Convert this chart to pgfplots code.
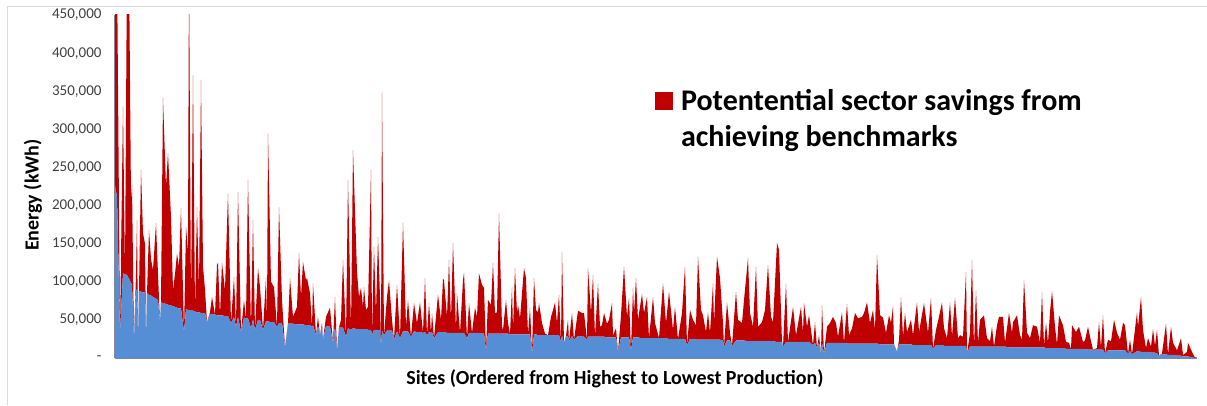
\documentclass[border=0pt]{standalone}
\usepackage{pgfplots}
\pgfplotsset{compat=1.18}
\usepackage{pgfplotstable}
\usepackage{fontspec}
\setmainfont{Carlito}
\definecolor{baseblue}{RGB}{85,142,213}
\definecolor{saveRed}{RGB}{192,0,0}
\definecolor{axisgray}{RGB}{134,134,150}
\pgfplotstableread{
site base saving
1 227000 293000
3 211000 309000
6 33000 0
9 111000 219000
11 110000 0
13 109000 411000
15 104000 416000
17 99000 108000
18 96000 131000
20 24000 0
22 90000 20000
23 89000 92000
24 26000 0
25 88000 0
27 87000 160000
29 86000 78000
31 86000 64000
32 26000 0
33 85000 0
35 83000 85000
37 82000 48000
39 80000 35000
42 78000 99000
44 76000 34000
46 47000 0
47 73000 0
49 72000 269000
52 71000 154000
54 70000 199000
57 69000 116000
59 68000 21000
61 67000 43000
63 66000 71000
65 65000 55000
67 65000 132000
70 34000 0
72 64000 108000
74 63000 77000
75 63000 457000
77 62000 5000
79 62000 309000
81 61000 0
83 60000 138000
85 60000 30000
87 59000 306000
89 59000 61000
91 59000 31000
93 47000 0
96 58000 2000
98 58000 22000
101 57000 0
103 56000 66000
104 56000 69000
106 56000 0
108 56000 69000
111 55000 34000
114 55000 161000
117 46000 0
120 54000 52000
122 41000 0
124 54000 164000
127 34000 0
130 53000 23000
132 52000 0
134 52000 182000
137 39000 0
139 51000 130000
141 37000 0
144 50000 68000
146 50000 43000
149 37000 0
152 48000 58000
153 48000 0
154 48000 247000
157 47000 53000
160 47000 46000
163 41000 0
165 46000 152000
168 46000 30000
171 14000 0
174 45000 0
176 45000 60000
179 45000 9000
183 44000 23000
185 44000 94000
187 44000 36000
189 44000 82000
192 43000 59000
193 43000 62000
196 43000 42000
198 41000 0
199 43000 55000
202 30000 0
204 42000 12000
206 30000 0
208 42000 4000
209 24000 0
212 42000 12000
216 41000 25000
219 20000 0
221 41000 39000
223 10000 0
225 40000 0
227 40000 10000
229 40000 89000
232 28000 0
234 39000 195000
237 37000 0
239 39000 234000
243 38000 75000
245 38000 42000
247 38000 54000
249 38000 29000
250 38000 55000
252 38000 25000
254 37000 30000
257 37000 210000
258 30000 0
260 37000 109000
262 37000 22000
264 37000 122000
266 36000 44000
267 15000 0
268 36000 313000
270 30000 0
273 36000 44000
275 36000 66000
278 36000 14000
280 24000 0
283 35000 61000
286 26000 0
289 35000 143000
292 35000 6000
294 35000 41000
297 28000 0
300 35000 37000
303 34000 12000
306 34000 39000
309 33000 0
311 34000 71000
313 30000 0
315 34000 38000
317 33000 0
318 34000 25000
320 26000 0
324 34000 49000
327 34000 16000
329 34000 70000
330 34000 68000
333 33000 21000
335 33000 96000
337 33000 17000
339 33000 118000
342 33000 4000
343 33000 52000
346 33000 0
349 33000 69000
350 33000 79000
353 26000 0
355 33000 39000
358 33000 0
361 33000 33000
363 33000 21000
365 33000 78000
368 32000 64000
370 32000 60000
372 10000 0
374 32000 44000
377 32000 38000
379 32000 93000
381 32000 27000
383 32000 28000
385 32000 158000
388 32000 9000
389 32000 5000
392 32000 44000
394 32000 14000
396 31000 0
398 31000 62000
399 31000 6000
401 31000 87000
403 31000 28000
404 31000 39000
406 31000 21000
410 31000 87000
412 31000 74000
414 31000 0
416 31000 35000
418 6000 0
420 31000 74000
422 31000 32000
424 30000 30000
425 30000 42000
428 30000 16000
431 30000 2000
434 30000 0
437 30000 24000
439 30000 33000
441 30000 43000
443 30000 16000
445 30000 53000
447 21000 0
448 30000 109000
450 20000 0
452 29000 0
454 29000 21000
455 22000 0
458 29000 30000
460 24000 0
464 29000 33000
468 28000 31000
470 28000 31000
473 24000 0
474 28000 90000
477 28000 31000
479 28000 81000
481 28000 0
484 28000 70000
486 28000 13000
488 28000 15000
490 28000 31000
493 27000 18000
495 27000 23000
498 27000 45000
499 27000 3000
502 27000 12000
504 8000 0
507 27000 29000
510 27000 93000
513 27000 27000
515 27000 52000
517 10000 0
519 27000 65000
520 27000 32000
522 27000 78000
524 27000 23000
528 26000 58000
530 26000 33000
533 26000 54000
535 26000 0
539 26000 54000
541 26000 20000
545 26000 0
549 26000 72000
552 26000 20000
555 25000 62000
559 25000 12000
561 25000 42000
564 25000 0
568 25000 34000
571 25000 95000
573 17000 0
576 25000 38000
579 25000 25000
582 24000 19000
584 24000 109000
587 24000 39000
589 24000 32000
592 24000 10000
594 24000 36000
596 24000 9000
599 24000 74000
600 24000 22000
603 24000 109000
606 24000 81000
609 23000 23000
610 15000 0
613 23000 50000
616 23000 10000
618 16000 0
622 23000 64000
624 23000 27000
628 23000 23000
630 23000 53000
634 22000 109000
636 22000 37000
639 22000 19000
642 22000 98000
644 22000 19000
648 22000 25000
651 22000 41000
654 22000 100000
657 22000 32000
659 22000 25000
663 21000 130000
665 21000 121000
668 21000 0
669 15000 0
672 21000 77000
674 21000 0
679 21000 46000
682 21000 9000
687 21000 46000
689 21000 12000
690 21000 51000
693 21000 20000
695 21000 35000
699 17000 0
701 20000 27000
703 13000 0
705 20000 10000
707 6000 0
708 20000 50000
710 6000 0
713 20000 21000
716 20000 26000
719 20000 34000
722 20000 26000
724 20000 8000
728 20000 40000
730 20000 0
733 19000 52000
735 19000 11000
738 19000 20000
741 19000 40000
744 19000 33000
748 19000 35000
750 19000 40000
753 19000 54000
756 19000 27000
759 19000 44000
761 19000 18000
763 19000 116000
766 18000 38000
769 18000 35000
772 18000 15000
775 18000 38000
777 18000 28000
779 18000 50000
780 18000 0
783 8000 0
785 18000 5000
787 18000 62000
789 18000 10000
791 18000 41000
793 18000 16000
797 18000 32000
799 17000 13000
803 17000 56000
805 17000 17000
810 17000 55000
814 17000 16000
817 17000 62000
819 12000 0
822 17000 20000
825 17000 37000
828 17000 56000
830 16000 23000
833 16000 10000
836 16000 57000
838 16000 12000
841 16000 63000
844 16000 10000
846 16000 14000
849 16000 12000
852 16000 97000
853 6000 0
856 15000 18000
858 15000 114000
860 15000 0
862 15000 74000
864 15000 5000
866 15000 35000
870 15000 41000
873 15000 11000
876 15000 7000
878 15000 26000
880 15000 0
883 15000 28000
885 15000 39000
889 15000 39000
891 15000 5000
895 14000 45000
898 14000 19000
899 14000 33000
903 14000 42000
906 14000 16000
908 14000 10000
910 14000 88000
913 14000 19000
916 14000 12000
919 14000 29000
923 14000 27000
926 14000 6000
928 14000 72000
930 14000 2000
932 13000 33000
934 13000 7000
936 13000 47000
938 13000 75000
941 13000 28000
943 13000 5000
945 13000 43000
948 13000 33000
949 13000 30000
952 12000 9000
955 12000 8000
957 12000 0
958 12000 31000
962 12000 22000
965 12000 29000
969 12000 9000
971 12000 11000
974 11000 30000
976 11000 17000
979 11000 0
983 11000 2000
985 11000 36000
987 11000 3000
989 11000 45000
991 6000 0
994 10000 14000
997 10000 12000
1000 10000 40000
1003 10000 23000
1006 10000 14000
1009 10000 36000
1011 10000 33000
1014 6000 0
1016 9000 15000
1018 5000 0
1023 9000 51000
1024 9000 32000
1027 8000 72000
1029 8000 29000
1032 8000 5000
1034 8000 18000
1037 7000 8000
1039 7000 31000
1041 7000 9000
1043 6000 31000
1045 3000 0
1048 5000 1000
1052 5000 40000
1054 4000 1000
1057 4000 37000
1059 4000 16000
1063 3000 7000
1067 3000 23000
1069 2000 2000
1073 2000 6000
1074 2000 18000
1078 1000 7000
1081 0 0
}\sites

\begin{document}
\begin{tikzpicture}[x=1pt,y=1pt]
\path[use as bounding box] (0,0) rectangle (1207,405);
\draw[black!15, line width=1pt] (7,0) -- (7,398) -- (1207,398);
\begin{axis}[
  at={(115pt,47pt)}, anchor=south west,
  scale only axis, width=1082pt, height=343pt,
  xmin=1, xmax=1083, ymin=0, ymax=450000,
  scaled y ticks=false,
  stack plots=y,
  axis x line*=bottom, axis y line*=left,
  axis line style={axisgray, line width=1.3pt, -},
  xtick=\empty,
  ytick={0,50000,100000,150000,200000,250000,300000,350000,400000,450000},
  yticklabels={{-\hspace{8pt}},{50,000},{100,000},{150,000},{200,000},{250,000},{300,000},{350,000},{400,000},{450,000}},
  major tick length=0pt,
  yticklabel style={font=\fontsize{15}{17}\selectfont, text=black!75, anchor=east, xshift=-10pt},
  xlabel={Sites (Ordered from Highest to Lowest Production)},
  ylabel={Energy (kWh)},
  label style={font=\bfseries\fontsize{20}{24}\selectfont},
  xlabel style={at={(axis description cs:0.462,-0.0612)}, anchor=center},
  ylabel style={at={(axis description cs:-0.0758,0.475)}, anchor=center},
  legend cell align=left,
  legend style={at={(axis description cs:0.499,0.79)}, anchor=north west, draw=none, fill=none,
    inner sep=0pt, font=\bfseries\fontsize{30}{36}\selectfont, cells={align=left}},
]
\addplot[fill=baseblue, draw=none, forget plot] table[x=site,y=base]{\sites} \closedcycle;
\addplot[fill=saveRed, draw=none,
  legend image code/.code={\fill[saveRed] (0pt,9pt) rectangle (18pt,27pt); \path[fill=none,draw=none] (24pt,18pt);}]
  table[x=site,y=saving]{\sites} \closedcycle;
\addlegendentry{Potentential sector savings from\\achieving benchmarks}
\end{axis}
\end{tikzpicture}
\end{document}
